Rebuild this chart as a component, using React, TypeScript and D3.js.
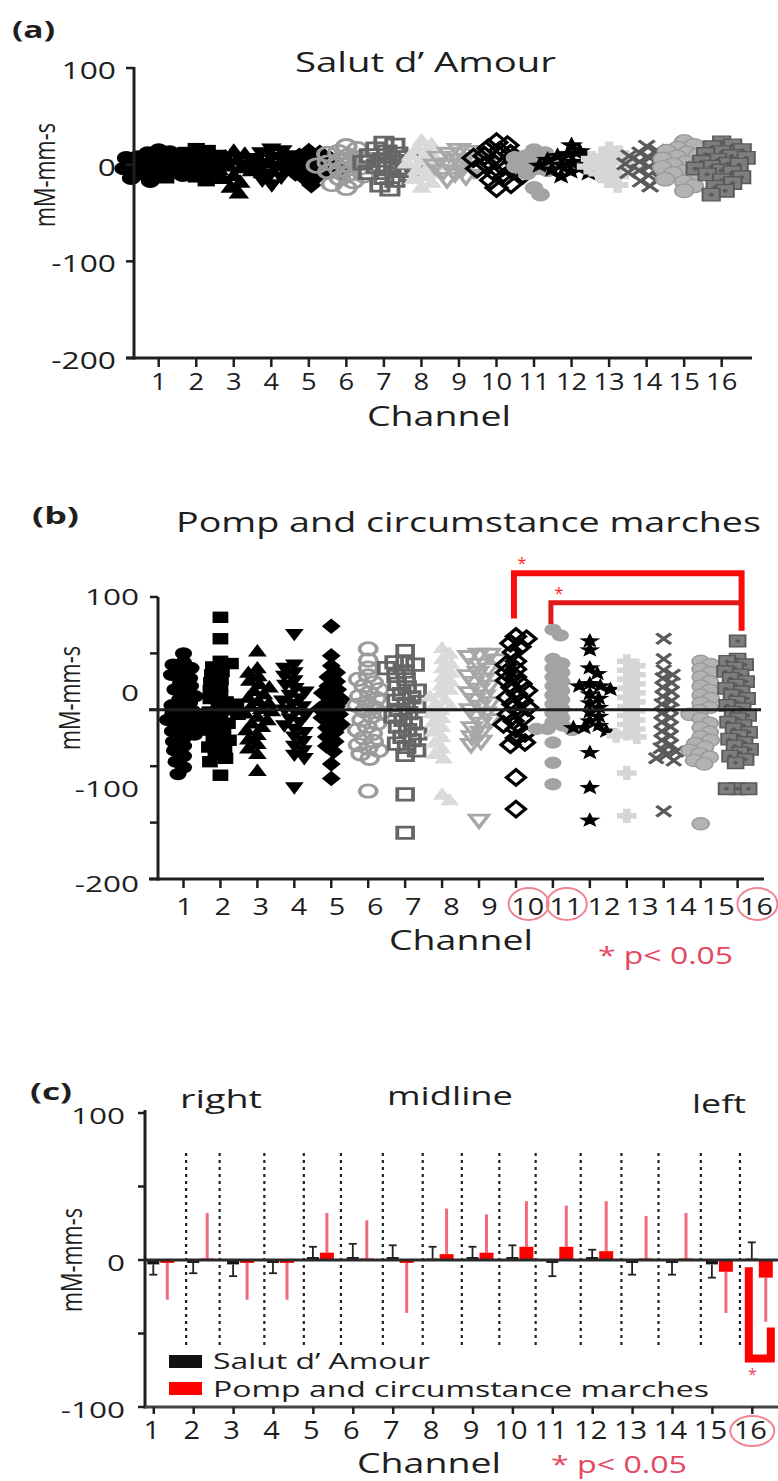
import React from "react";
import * as d3 from "d3";

// ---------------- DATA ----------------
const channels = [1, 2, 3, 4, 5, 6, 7, 8, 9, 10, 11, 12, 13, 14, 15, 16];

// Panel (a) individual values, Salut d' Amour (mM-mm-s)
const salutScatter: number[][] = [
  [15, 13, 12, 10, 8, 7, 5, 4, 2, 1, 0, -1, -3, -4, -6, -7, -9, -11, -12, -14, -17],
  [16, 14, 12, 11, 9, 7, 6, 4, 3, 1, 0, -2, -3, -5, -6, -8, -10, -12, -13, -16],
  [14, 11, 8, 6, 5, 3, 2, 0, -1, -3, -5, -6, -8, -11, -14, -18, -23, -29],
  [16, 14, 12, 9, 7, 6, 4, 2, 1, -1, -2, -4, -6, -8, -10, -13, -16, -21],
  [14, 12, 9, 7, 6, 4, 2, 1, -1, -2, -4, -6, -7, -9, -11, -14, -21],
  [19, 16, 13, 11, 9, 7, 5, 4, 2, 0, -1, -3, -5, -7, -9, -11, -14, -17, -20, -24],
  [22, 20, 16, 13, 11, 9, 7, 5, 3, 2, 0, -2, -4, -6, -8, -10, -13, -16, -21, -25],
  [25, 21, 17, 13, 10, 7, 5, 2, 0, -2, -5, -8, -11, -14, -18, -23],
  [15, 13, 11, 9, 7, 5, 4, 2, 0, -1, -3, -5, -7, -9, -12, -15],
  [23, 20, 17, 14, 11, 9, 7, 5, 3, 1, 0, -2, -4, -6, -8, -10, -13, -16, -20, -24],
  [15, 12, 9, 7, 5, 3, 2, 0, -2, -4, -6, -9, -24, -31],
  [20, 14, 11, 9, 7, 5, 3, 2, 0, -1, -3, -5, -7, -9, -12],
  [16, 12, 9, 6, 4, 2, 0, -2, -4, -6, -9, -12, -16, -21],
  [19, 15, 12, 9, 7, 5, 3, 1, 0, -2, -4, -6, -8, -11, -14, -17, -22],
  [24, 20, 17, 14, 12, 10, 8, 6, 4, 2, 0, -1, -3, -5, -7, -9, -12, -15, -18, -22, -27],
  [23, 20, 18, 15, 13, 11, 9, 7, 5, 3, 1, 0, -2, -4, -6, -8, -10, -13, -16, -19, -23, -27, -31],
];

// Panel (b) individual values, Pomp and circumstance marches
const pompScatter: number[][] = [
  [50, 42, 40, 37, 33, 31, 28, 24, 21, 18, 15, 12, 9, 6, 4, 1, -1, -3, -5, -7, -9, -11, -13, -15, -17, -19, -22, -25, -28, -32, -36, -41, -46, -51, -57],
  [82, 63, 43, 41, 38, 34, 31, 27, 24, 20, 17, 13, 10, 7, 5, 2, 0, -2, -4, -7, -9, -12, -15, -18, -21, -24, -27, -30, -33, -36, -40, -43, -46, -58],
  [52, 37, 33, 30, 26, 23, 20, 17, 14, 11, 8, 6, 3, 1, -1, -3, -6, -9, -12, -15, -18, -22, -26, -30, -34, -39, -54],
  [67, 40, 37, 33, 30, 26, 22, 19, 16, 13, 10, 8, 5, 3, 0, -2, -5, -8, -11, -14, -17, -20, -24, -28, -32, -36, -40, -43, -69],
  [74, 48, 39, 33, 29, 25, 21, 18, 15, 12, 9, 6, 3, 1, -2, -4, -7, -10, -13, -16, -20, -24, -28, -32, -37, -48, -61],
  [54, 44, 37, 30, 27, 24, 21, 18, 15, 12, 10, 7, 4, 2, -1, -3, -6, -9, -12, -15, -18, -21, -25, -28, -31, -34, -36, -39, -43, -72],
  [52, 43, 42, 40, 37, 34, 30, 27, 23, 20, 17, 14, 11, 8, 5, 3, 0, -3, -6, -9, -12, -15, -18, -21, -24, -27, -30, -33, -36, -40, -75, -109],
  [55, 50, 45, 41, 37, 33, 29, 25, 22, 18, 15, 12, 9, 6, 3, 0, -3, -7, -11, -15, -19, -24, -29, -34, -39, -43, -75, -80],
  [49, 49, 47, 44, 40, 36, 33, 30, 27, 24, 21, 18, 15, 12, 9, 6, 3, 0, -3, -6, -9, -12, -16, -20, -24, -28, -31, -98],
  [65, 63, 59, 56, 51, 43, 40, 36, 33, 29, 26, 23, 20, 17, 14, 11, 8, 5, 2, -1, -4, -7, -10, -13, -17, -21, -25, -29, -31, -60, -88],
  [71, 66, 45, 41, 37, 33, 29, 25, 21, 17, 13, 9, 5, 1, -3, -7, -11, -14, -17, -18, -17, -29, -47, -66],
  [61, 53, 37, 32, 23, 21, 21, 18, 14, 10, 6, 2, -2, -6, -10, -14, -16, -16, -19, -38, -69, -98],
  [43, 39, 35, 31, 27, 23, 19, 15, 11, 7, 3, -1, -5, -9, -13, -17, -21, -23, -24, -56, -94],
  [63, 45, 35, 31, 28, 24, 20, 16, 12, 8, 5, 1, -3, -7, -11, -15, -19, -23, -27, -31, -34, -37, -40, -43, -45, -90],
  [43, 40, 36, 33, 29, 25, 21, 17, 13, 10, 6, 2, -1, -4, -8, -12, -16, -20, -24, -27, -30, -33, -36, -39, -42, -45, -48, -101],
  [61, 45, 43, 40, 37, 34, 31, 28, 25, 22, 19, 16, 13, 10, 7, 4, 1, -2, -5, -8, -11, -14, -17, -20, -23, -26, -29, -32, -35, -38, -41, -44, -47, -70, -70, -70],
];

// Panel (c) means and SDs
const salutMean = [-3, -2, -3, -2, 2, 2, 2, 1, 2, 2, -2, 2, -2, -2, -3, 1];
const salutSD = [7, 7, 8, 7, 7, 9, 8, 8, 7, 8, 9, 5, 8, 8, 9, 11];
const pompMean = [-2, 1, -2, -2, 5, 1, -2, 4, 5, 9, 9, 6, 1, 1, -8, -12];
const pompSD = [25, 31, 25, 25, 27, 26, 34, 31, 26, 31, 28, 34, 29, 31, 28, 30];

// Divider positions (in channel units) in panel (c)
const dividers = [1.81, 2.65, 3.77, 4.76, 5.69, 6.74, 7.74, 8.72, 9.66, 10.57, 11.7, 12.72, 13.65, 14.71, 15.69];

const ticksA = [100, 0, -100, -200];
const ticksB = [100, 50, 0, -50, -100, -150];
const tickLabelsB = [100, 0, -100, -200];
const ticksC = [100, 50, 0, -50, -100];
const tickLabelsC = [100, 0, -100];

const sigBracketsB = [
  { from: 10, to: 16, top: 121, leftEnd: 81, rightEnd: 70 },
  { from: 11, to: 16, top: 95, leftEnd: 76, rightEnd: 95 },
];
const sigChannelsB = [10, 11, 16];
const sigChannelsC = [16];
const sigBracketC = { ch: 16, leftTop: -5, bottom: -67, rightTop: -46 };

// ---------------- STYLE ----------------
const FONT = "'Open Sans', 'DejaVu Sans', sans-serif";
const SX = 1.38;
const INK = "#1e1e1e";
const PRED = "#e5475f";

type MS = { shape: string; fill: string; stroke?: string; sw?: number; dot?: string };
const markerStyles: MS[] = [
  { shape: "circle", fill: "#000" },
  { shape: "square", fill: "#000" },
  { shape: "triUp", fill: "#000" },
  { shape: "triDown", fill: "#000" },
  { shape: "diamond", fill: "#000" },
  { shape: "circle", fill: "none", stroke: "#9b9b9b", sw: 3.2 },
  { shape: "square", fill: "none", stroke: "#666", sw: 3.2 },
  { shape: "triUp", fill: "#dadada" },
  { shape: "triDown", fill: "none", stroke: "#a8a8a8", sw: 3.2 },
  { shape: "diamond", fill: "none", stroke: "#000", sw: 3.2 },
  { shape: "circle", fill: "#a3a3a3" },
  { shape: "star", fill: "#000" },
  { shape: "plus", fill: "#d6d6d6" },
  { shape: "times", fill: "none", stroke: "#5a5a5a", sw: 3.2 },
  { shape: "circle", fill: "#b3b3b3", stroke: "#999", sw: 1.4 },
  { shape: "square", fill: "#7e7e7e", stroke: "#5a5a5a", sw: 1.6, dot: "#5a5a5a" },
];

function markerPath(shape: string, r: number): string {
  switch (shape) {
    case "circle":
      return `M${-r},0A${r},${r} 0 1,0 ${r},0A${r},${r} 0 1,0 ${-r},0Z`;
    case "square": {
      const s = r * 0.92;
      return `M${-s},${-s}H${s}V${s}H${-s}Z`;
    }
    case "triUp":
      return `M0,${-r * 1.15}L${r * 1.1},${r * 0.85}L${-r * 1.1},${r * 0.85}Z`;
    case "triDown":
      return `M0,${r * 1.15}L${r * 1.1},${-r * 0.85}L${-r * 1.1},${-r * 0.85}Z`;
    case "diamond":
      return `M0,${-r * 1.25}L${r * 1.1},0L0,${r * 1.25}L${-r * 1.1},0Z`;
    case "star": {
      const p = d3.path();
      for (let i = 0; i < 10; i++) {
        const a = -Math.PI / 2 + (i * Math.PI) / 5;
        const rr = i % 2 ? r * 0.55 : r * 1.3;
        if (i === 0) p.moveTo(rr * Math.cos(a), rr * Math.sin(a));
        else p.lineTo(rr * Math.cos(a), rr * Math.sin(a));
      }
      p.closePath();
      return p.toString();
    }
    case "plus": {
      const a = r * 0.45, b = r * 1.15;
      return `M${-a},${-b}H${a}V${-a}H${b}V${a}H${a}V${b}H${-a}V${a}H${-b}V${-a}H${-a}Z`;
    }
    case "times": {
      const b = r * 0.85;
      return `M${-b},${-b}L${b},${b}M${b},${-b}L${-b},${b}`;
    }
  }
  return "";
}

type SP = { v: number; y: number; dx: number };
function swarm(vals: number[], y: (v: number) => number, minD: number, sx: number): SP[] {
  const pts: SP[] = vals.map((v) => ({ v, y: y(v), dx: 0 }));
  const order = pts.slice().sort((a, b) => b.v - a.v);
  const placed: SP[] = [];
  order.forEach((p, idx) => {
    let best = 0;
    for (let k = 0; k <= 90; k++) {
      const c1 = k * 0.5;
      const cands = k === 0 ? [0] : idx % 2 ? [c1, -c1] : [-c1, c1];
      let found: number | null = null;
      for (const c of cands) {
        const ok = placed.every((q) => ((c - q.dx) / sx) ** 2 + (p.y - q.y) ** 2 >= minD * minD);
        if (ok) { found = c; break; }
      }
      if (found !== null) { best = found; break; }
    }
    p.dx = best;
    placed.push(p);
  });
  return pts;
}

function Marker({ x, y, st, r }: { x: number; y: number; st: MS; r: number }) {
  const isStroke = st.shape === "times";
  return (
    <g transform={`translate(${x},${y}) scale(${SX},1)`}>
      <path
        d={markerPath(st.shape, r)}
        fill={isStroke ? "none" : st.fill}
        stroke={st.stroke || "none"}
        strokeWidth={(st.sw || 0) / 1.15}
      />
      {st.dot && <circle r={r * 0.28} fill={st.dot} />}
    </g>
  );
}

function T(props: {
  x: number; y: number; children: React.ReactNode; size: number; anchor?: string; sx?: number;
  weight?: string | number; fill?: string; len?: number; rotate?: boolean; baseline?: string;
}) {
  const { x, y, children, size, anchor = "start", sx = 1, weight = "normal", fill = INK, len, rotate, baseline } = props;
  return (
    <text
      transform={`translate(${x},${y}) scale(${sx},1)${rotate ? " rotate(-90)" : ""}`}
      fontSize={size}
      textAnchor={anchor as any}
      fontWeight={weight as any}
      fill={fill}
      dominantBaseline={baseline as any}
      textLength={len ? (rotate ? len : len / sx) : undefined}
      lengthAdjust={len ? "spacingAndGlyphs" : undefined}
    >
      {children}
    </text>
  );
}

// ---------------- SCALES ----------------
const xA = d3.scaleLinear().domain([1, 16]).range([158.7, 721.7]);
const yA = d3.scaleLinear().domain([-200, 100]).range([358, 68]);

const xB = d3.scaleLinear().domain([1, 16]).range([183.5, 737.6]);
const yB = d3.scaleLinear().domain([-150, 100]).range([879, 597]);
const yBLabel = d3.scaleLinear().domain([-200, 100]).range([884, 597]);
const xBLabel = d3.scaleLinear().domain([1, 16]).range([184.5, 756.4]);

const xC = d3.scaleLinear().domain([1, 16]).range([153.8, 752.3]);
const yC = d3.scaleLinear().domain([-100, 100]).range([1407, 1113]);
const sub = d3.scaleBand().domain(["salut", "pomp"]).range([-7.5, 20.5]).padding(0);

export default function App() {
  const swA = salutScatter.map((vals) => swarm(vals, yA, 8.2, SX));
  const swB = pompScatter.map((vals) => swarm(vals, yB, 7.8, SX));

  return (
    <svg
      width={778}
      height={1481}
      viewBox="0 0 778 1481"
      style={{ position: "absolute", left: 0, top: 0, background: "#fff" }}
      fontFamily={FONT}
    >
      <rect x={0} y={0} width={778} height={1481} fill="#fff" />

      {/* ================= PANEL A ================= */}
      <T x={12} y={38} size={24} weight="bold" len={43}>(a)</T>
      <T x={295} y={72} size={27} len={261}>Salut d’ Amour</T>
      <T x={55} y={175} size={23} sx={1.3} len={104} rotate anchor="middle">mM-mm-s</T>
      {channels.map((ch, i) => (
        <g key={"a" + ch}>
          {swA[i].map((p, j) => (
            <Marker key={j} x={xA(ch) + p.dx} y={p.y} st={markerStyles[i]} r={6.8} />
          ))}
        </g>
      ))}
      <line x1={134} x2={134} y1={yA(100) - 1} y2={359.5} stroke={INK} strokeWidth={3} />
      {ticksA.map((t) => (
        <g key={"ta" + t}>
          <line x1={126} x2={134} y1={yA(t)} y2={yA(t)} stroke={INK} strokeWidth={2.5} />
          <T x={116} y={yA(t) + 2} size={23} sx={1.38} anchor="end" baseline="central">{String(t)}</T>
        </g>
      ))}
      <line x1={126} x2={752} y1={358} y2={358} stroke={INK} strokeWidth={3} />
      {channels.map((ch) => (
        <g key={"xa" + ch}>
          <line x1={xA(ch)} x2={xA(ch)} y1={358} y2={367} stroke={INK} strokeWidth={2.5} />
          <T x={xA(ch)} y={390} size={24} sx={1.14} anchor="middle">{String(ch)}</T>
        </g>
      ))}
      <T x={367} y={426} size={27} len={144}>Channel</T>

      {/* ================= PANEL B ================= */}
      <T x={32} y={524} size={24} weight="bold" len={47}>(b)</T>
      <T x={176} y={532} size={28} len={585}>Pomp and circumstance marches</T>
      <T x={80} y={698} size={23} sx={1.3} len={104} rotate anchor="middle">mM-mm-s</T>
      {channels.map((ch, i) => (
        <g key={"b" + ch}>
          {swB[i].map((p, j) => (
            <Marker key={j} x={xB(ch) + p.dx} y={p.y} st={markerStyles[i]} r={6.2} />
          ))}
        </g>
      ))}
      <line x1={149} x2={761} y1={yB(0)} y2={yB(0)} stroke={INK} strokeWidth={3} />
      <line x1={158} x2={158} y1={597} y2={880.5} stroke={INK} strokeWidth={3} />
      {ticksB.map((t) => (
        <line key={"tb" + t} x1={150} x2={158} y1={yB(t)} y2={yB(t)} stroke={INK} strokeWidth={2.5} />
      ))}
      {tickLabelsB.map((t) => (
        <T key={"lb" + t} x={139} y={yBLabel(t)} size={21} sx={1.5} anchor="end" baseline="central">{String(t)}</T>
      ))}
      <line x1={149} x2={764} y1={879} y2={879} stroke={INK} strokeWidth={3} />
      {channels.map((ch) => (
        <g key={"xb" + ch}>
          <line x1={xB(ch)} x2={xB(ch)} y1={879} y2={888} stroke={INK} strokeWidth={2.5} />
          <T x={xBLabel(ch)} y={915} size={24} sx={1.2} anchor="middle">{String(ch)}</T>
        </g>
      ))}
      {sigChannelsB.map((ch) => (
        <ellipse key={"cb" + ch} cx={xBLabel(ch) + 1} cy={904} rx={20} ry={16} fill="none" stroke="#ef8595" strokeWidth={2} />
      ))}
      {sigBracketsB.map((b, i) => (
        <g key={"sb" + i}>
          <path
            d={`M${xB(b.from) - 2},${yB(b.leftEnd)}V${yB(b.top)}H${xB(b.to) + 4}V${yB(b.rightEnd)}`}
            fill="none"
            stroke={i === 0 ? "#ff0a0a" : "#e01818"}
            strokeWidth={i === 0 ? 6 : 5}
          />
          <T x={xB(b.from) + 6} y={yB(b.top) - 4} size={16} fill="#ff2020" anchor="middle">*</T>
        </g>
      ))}
      <T x={389} y={950} size={28} len={144}>Channel</T>
      <T x={598} y={964} size={24} len={135} fill={PRED}>* p&lt; 0.05</T>

      {/* ================= PANEL C ================= */}
      <T x={30} y={1100} size={24} weight="bold" len={42}>(c)</T>
      <T x={180} y={1108} size={26} len={82}>right</T>
      <T x={387} y={1105} size={26} len={126}>midline</T>
      <T x={692} y={1113} size={26} len={54}>left</T>
      <T x={82} y={1260} size={23} sx={1.3} len={104} rotate anchor="middle">mM-mm-s</T>

      {dividers.map((d, i) => (
        <line key={"dv" + i} x1={xC(d)} x2={xC(d)} y1={1153} y2={1345} stroke="#222" strokeWidth={2.2} strokeDasharray="3,4" />
      ))}

      {channels.map((ch, i) => {
        const bx = xC(ch) + (sub("salut") as number);
        const rx = xC(ch) + (sub("pomp") as number);
        const bw = sub.bandwidth();
        const sm = salutMean[i], ss = salutSD[i] * Math.sign(sm);
        const pm = pompMean[i], ps = pompSD[i] * Math.sign(pm);
        const bc = bx + bw / 2, rc = rx + bw / 2;
        return (
          <g key={"c" + ch}>
            <rect x={bx + 1} y={Math.min(yC(sm), yC(0))} width={bw - 2} height={Math.abs(yC(sm) - yC(0))} fill="#141414" />
            <line x1={bc} x2={bc} y1={yC(sm)} y2={yC(sm + ss)} stroke="#222" strokeWidth={1.8} />
            <line x1={bc - 4} x2={bc + 4} y1={yC(sm + ss)} y2={yC(sm + ss)} stroke="#222" strokeWidth={1.8} />
            <line x1={rc} x2={rc} y1={yC(pm)} y2={yC(pm + ps)} stroke="#f06a7c" strokeWidth={3} />
            <rect x={rx} y={Math.min(yC(pm), yC(0))} width={bw} height={Math.abs(yC(pm) - yC(0))} fill="#ff0000" />
          </g>
        );
      })}

      <line x1={145} x2={778} y1={yC(0)} y2={yC(0)} stroke="#2a2a2a" strokeWidth={3} />
      <path
        d={`M${xC(sigBracketC.ch) - 3.5},${yC(sigBracketC.leftTop)}V${yC(sigBracketC.bottom)}H${xC(sigBracketC.ch) + 18.5}V${yC(sigBracketC.rightTop)}`}
        fill="none"
        stroke="#ff0000"
        strokeWidth={8}
      />
      <T x={xC(sigBracketC.ch)} y={1380} size={16} fill="#f04050" anchor="middle">*</T>

      {/* legend */}
      <rect x={169} y={1355} width={33} height={13} fill="#111" />
      <T x={213} y={1369} size={22} len={217}>Salut d’ Amour</T>
      <rect x={169} y={1382} width={33} height={13} fill="#ff0000" />
      <T x={213} y={1397} size={22} len={496}>Pomp and circumstance marches</T>

      <line x1={145} x2={145} y1={1110} y2={1408.5} stroke={INK} strokeWidth={3} />
      {ticksC.map((t) => (
        <line key={"tc" + t} x1={138} x2={145} y1={yC(t)} y2={yC(t)} stroke={INK} strokeWidth={2.5} />
      ))}
      {tickLabelsC.map((t) => (
        <T key={"lc" + t} x={125} y={yC(t) + 3} size={21} sx={1.5} anchor="end" baseline="central">{String(t)}</T>
      ))}
      <line x1={145} x2={778} y1={1407} y2={1407} stroke="#444" strokeWidth={3} />
      {channels.map((ch) => (
        <g key={"xc" + ch}>
          <line x1={xC(ch)} x2={xC(ch)} y1={1407} y2={1414} stroke={INK} strokeWidth={2.5} />
          <T x={xC(ch) - 2} y={1439} size={26} sx={1.12} anchor="middle">{String(ch)}</T>
        </g>
      ))}
      {sigChannelsC.map((ch) => (
        <ellipse key={"cc" + ch} cx={xC(ch)} cy={1431} rx={22} ry={15} fill="none" stroke="#ef8595" strokeWidth={2} />
      ))}
      <T x={357} y={1473} size={27} len={144}>Channel</T>
      <T x={551} y={1473} size={23} len={136} fill={PRED}>* p&lt; 0.05</T>
    </svg>
  );
}
